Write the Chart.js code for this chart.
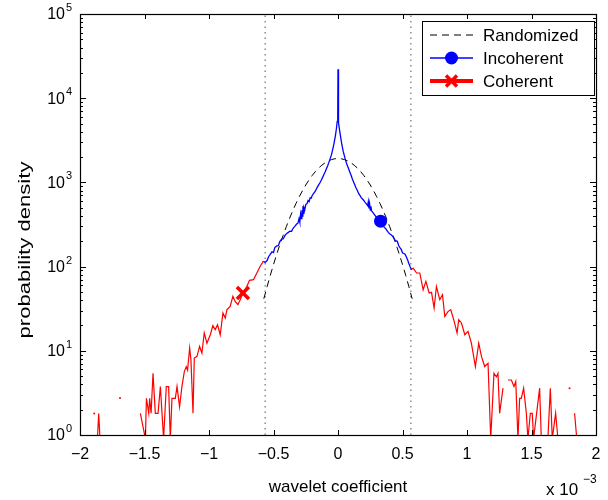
<!DOCTYPE html>
<html>
<head>
<meta charset="utf-8">
<script src="https://cdn.jsdelivr.net/npm/chart.js@4.4.1/dist/chart.umd.min.js"></script>
<style>
  html, body { margin: 0; padding: 0; background: #fff; }
  canvas { display: block; }
</style>
</head>
<body>
<canvas id="pdfChart" width="608" height="500"></canvas>
<script>
// axis ticks (x in units of 1e-3)
const xTicks = [-2, -1.5, -1, -0.5, 0, 0.5, 1, 1.5, 2];
const yTickPowers = [0, 1, 2, 3, 4, 5];
const cutoffs = [-0.565, 0.565];

// randomized (gaussian) reference pdf
const randomizedX = [-0.575, -0.55, -0.525, -0.5, -0.475, -0.45, -0.425, -0.4, -0.375, -0.35, -0.325, -0.3, -0.275, -0.25, -0.225, -0.2, -0.175, -0.15, -0.125, -0.1, -0.075, -0.05, -0.025, 0,
  0.025, 0.05, 0.075, 0.1, 0.125, 0.15, 0.175, 0.2, 0.225, 0.25, 0.275, 0.3, 0.325, 0.35, 0.375, 0.4, 0.425, 0.45, 0.475, 0.5, 0.525, 0.55, 0.575];
const randomizedY = [41.5, 57.5, 78.6, 106, 140, 184, 236, 300, 376, 464, 564, 677, 799, 931, 1068, 1209, 1347, 1480, 1603, 1711, 1801, 1867, 1908, 1922,
  1908, 1867, 1801, 1711, 1603, 1480, 1347, 1209, 1068, 931, 799, 677, 564, 464, 376, 300, 236, 184, 140, 106, 78.6, 57.5, 41.5];

// incoherent part (inside cutoffs)
const incoherentX = [-0.578, -0.565, -0.55, -0.537, -0.525, -0.512, -0.5, -0.49, -0.475, -0.462, -0.45, -0.437, -0.425, -0.41, -0.397, -0.385, -0.372, -0.36, -0.348, -0.335, -0.322, -0.31, -0.302, -0.296, -0.29, -0.285, -0.28, -0.276, -0.272, -0.268, -0.264, -0.258, -0.25, -0.24, -0.232, -0.224, -0.216, -0.208, -0.2, -0.19, -0.18, -0.17, -0.16, -0.15, -0.14, -0.13, -0.12, -0.11, -0.1, -0.09, -0.08, -0.07, -0.06, -0.05, -0.04, -0.03, -0.02, -0.012, -0.006, -0.002, 0,
  0.002, 0.006, 0.012, 0.02, 0.03, 0.04, 0.05, 0.06, 0.07, 0.08, 0.09, 0.1, 0.11, 0.12, 0.13, 0.14, 0.15, 0.16, 0.17, 0.18, 0.19, 0.2, 0.21, 0.22, 0.23, 0.235, 0.24, 0.245, 0.25, 0.255, 0.26, 0.27, 0.28, 0.29, 0.3, 0.31, 0.32, 0.33, 0.34, 0.35, 0.36, 0.37, 0.38, 0.39, 0.4, 0.41, 0.42, 0.43, 0.44, 0.45, 0.46, 0.47, 0.48, 0.49, 0.5, 0.51, 0.52, 0.53, 0.54, 0.55, 0.56, 0.57];
const incoherentY = [116, 112, 118, 132, 140, 150, 147, 168, 176, 178, 200, 212, 213, 236, 248, 255, 264, 262, 285, 300, 318, 330, 372, 338, 420, 372, 466, 398, 520, 430, 500, 470, 545, 560, 610, 590, 655, 650, 700, 735, 770, 820, 880, 935, 990, 1060, 1140, 1230, 1330, 1450, 1580, 1740, 1930, 2150, 2500, 2950, 3600, 4400, 5300, 6200, 22000,
  6000, 5100, 4200, 3500, 2800, 2350, 2050, 1800, 1620, 1480, 1350, 1230, 1110, 1020, 940, 860, 800, 740, 700, 660, 635, 610, 580, 555, 530, 590, 490, 560, 470, 520, 460, 440, 420, 400, 380, 372, 356, 346, 330, 305, 292, 282, 268, 255, 246, 240, 232, 222, 208, 202, 200, 178, 168, 160, 146, 143, 140, 130, 120, 108, 99, 92];
const incoherentMarkerX = 0.33;

// coherent part (outside cutoffs), null = empty bin
const coherentX = [-1.89, -1.875, -1.865, -1.855, -1.845, -1.835, -1.69, -1.68, -1.532, -1.493, -1.485, -1.467, -1.46, -1.449, -1.434, -1.416, -1.395, -1.377, -1.352, -1.331, -1.313, -1.3, -1.287, -1.261, -1.248, -1.228, -1.21, -1.191, -1.176, -1.166, -1.15, -1.14, -1.124, -1.114, -1.093, -1.073, -1.055, -1.037, -1.016, -0.99, -0.97, -0.952, -0.934, -0.913, -0.892, -0.874, -0.861, -0.836, -0.815, -0.797, -0.776, -0.758, -0.737, -0.706, -0.686, -0.655, -0.629, -0.603, -0.578, 0,
  0.57, 0.583, 0.609, 0.634, 0.66, 0.681, 0.707, 0.725, 0.745, 0.763, 0.789, 0.81, 0.828, 0.854, 0.874, 0.897, 0.923, 0.936, 0.957, 0.983, 1.008, 1.034, 1.065, 1.091, 1.112, 1.137, 1.163, 1.184, 1.209, 1.228, 1.24, 1.253, 1.279, 1.3, 1.318, 1.344, 1.364, 1.378, 1.395, 1.408, 1.421, 1.439, 1.46, 1.472, 1.491, 1.506, 1.516, 1.563, 1.576, 1.627, 1.646, 1.661, 1.687, 1.705, 1.72, 1.795, 1.81, 1.834, 1.851];
const coherentY = [1.8, null, 0.9, 1.8, 0.9, null, 2.75, null, 1.81, 0.9, 2.73, 1.81, 2.73, 1.81, 5.4, 1.81, 1.81, 3.76, 0.9, 3.76, 3.76, 0.9, 2.73, 2.73, 3.76, 2.17, 3.76, 5.7, 6.5, 5.9, 10.8, 7.8, 1.81, 8.2, 8.6, 11.3, 9.4, 16.3, 12.3, 15.5, 19.9, 17.8, 20.4, 15.5, 28.1, 24.5, 30.8, 33.7, 44.4, 38.6, 35.3, 40.5, 48.6, 58.3, 68.7, 70, 84.1, 101, 116, null,
  92, 96, 84, 84, 53, 67, 48.6, 49.5, 32.2, 58, 40.5, 46.4, 25.6, 29.4, 30.8, 23.4, 16.3, 23.4, 21.4, 15.5, 17, 12.3, 6.5, 12.3, 8.6, 6.5, 7.1, 0.9, 5.4, 4.9, 5.4, 1.81, 3.6, null, 4.5, 4.5, 3.76, 4.3, 0.9, 2.73, 2.73, 3.6, 1.81, 0.9, 1.81, 1.81, 0.9, 3.6, 0.9, 0.9, 3.6, 0.9, 1.81, 0.9, null, 3.6, null, 1.81, 0.9];
const coherentMarkerX = -0.737;

const FONT = '"Liberation Sans", Arial, Helvetica, sans-serif';

function toPoints(xs, ys) {
  return xs.map((x, i) => ({ x: x, y: ys[i] }));
}

function isIsolated(ys, i) {
  return ys[i] !== null && (i === 0 || ys[i - 1] === null) && (i === ys.length - 1 || ys[i + 1] === null);
}

const incMarkerIdx = incoherentX.indexOf(incoherentMarkerX);
const cohMarkerIdx = coherentX.indexOf(coherentMarkerX);

function fmtTick(v) {
  return (v < 0 ? '\u2212' : '') + String(Math.abs(v));
}

function drawLegend(ctx) {
  const left = 422.5, top = 21.5, right = 594.5, bottom = 95.5;
  ctx.fillStyle = '#fff';
  ctx.fillRect(left, top, right - left, bottom - top);
  ctx.strokeStyle = '#000';
  ctx.lineWidth = 1;
  ctx.strokeRect(left, top, right - left, bottom - top);

  const rows = [35, 58, 81];
  const x0 = 430, x1 = 473, xm = 451.5;

  // Randomized
  ctx.save();
  ctx.strokeStyle = '#000';
  ctx.setLineDash([7, 5]);
  ctx.beginPath();
  ctx.moveTo(x0, rows[0]); ctx.lineTo(x1, rows[0]);
  ctx.stroke();
  ctx.restore();

  // Incoherent
  ctx.strokeStyle = '#0000ff';
  ctx.lineWidth = 1.3;
  ctx.beginPath();
  ctx.moveTo(x0, rows[1]); ctx.lineTo(x1, rows[1]);
  ctx.stroke();
  ctx.fillStyle = '#0000ff';
  ctx.beginPath();
  ctx.arc(xm, rows[1], 6.5, 0, Math.PI * 2);
  ctx.fill();

  // Coherent
  ctx.strokeStyle = '#ff0000';
  ctx.lineWidth = 4;
  ctx.beginPath();
  ctx.moveTo(x0, rows[2]); ctx.lineTo(x1, rows[2]);
  ctx.stroke();
  ctx.lineWidth = 3.5;
  ctx.beginPath();
  ctx.moveTo(xm - 5.5, rows[2] - 5.5); ctx.lineTo(xm + 5.5, rows[2] + 5.5);
  ctx.moveTo(xm - 5.5, rows[2] + 5.5); ctx.lineTo(xm + 5.5, rows[2] - 5.5);
  ctx.stroke();

  ctx.fillStyle = '#000';
  ctx.font = '17px ' + FONT;
  ctx.textAlign = 'left';
  ctx.textBaseline = 'middle';
  ['Randomized', 'Incoherent', 'Coherent'].forEach((t, i) => ctx.fillText(t, 483, rows[i] + 1));
}

const axesPlugin = {
  id: 'matlabAxes',
  afterDatasetsDraw(chart) {
    const { ctx, chartArea: a, scales: { x, y } } = chart;
    ctx.save();

    // inside ticks
    ctx.strokeStyle = '#000';
    ctx.lineWidth = 1;
    ctx.beginPath();
    xTicks.forEach(v => {
      const px = Math.round(x.getPixelForValue(v)) + 0.5;
      ctx.moveTo(px, a.bottom); ctx.lineTo(px, a.bottom - 5);
      ctx.moveTo(px, a.top); ctx.lineTo(px, a.top + 5);
    });
    yTickPowers.forEach(p => {
      for (let m = 1; m < 10; m++) {
        const v = m * Math.pow(10, p);
        if (v > y.max) break;
        const py = Math.round(y.getPixelForValue(v)) + 0.5;
        const len = m === 1 ? 6 : 3;
        ctx.moveTo(a.left, py); ctx.lineTo(a.left + len, py);
        ctx.moveTo(a.right, py); ctx.lineTo(a.right - len, py);
      }
    });
    ctx.stroke();

    // box
    ctx.lineWidth = 1.2;
    ctx.strokeRect(a.left + 0.5, a.top + 0.5, a.right - a.left, a.bottom - a.top);

    // x tick labels
    ctx.fillStyle = '#000';
    ctx.font = '16px ' + FONT;
    ctx.textAlign = 'center';
    ctx.textBaseline = 'middle';
    xTicks.forEach(v => ctx.fillText(fmtTick(v), x.getPixelForValue(v), a.bottom + 20));

    // y tick labels 10^p
    yTickPowers.forEach(p => {
      const py = y.getPixelForValue(Math.pow(10, p));
      ctx.font = '16px ' + FONT;
      ctx.textAlign = 'right';
      ctx.textBaseline = 'middle';
      ctx.fillText('10', 65, py + 1);
      ctx.font = '11px ' + FONT;
      ctx.textAlign = 'left';
      ctx.fillText(String(p), 66, py - 6);
    });

    // axis labels
    ctx.font = '17px ' + FONT;
    ctx.textAlign = 'center';
    ctx.textBaseline = 'alphabetic';
    ctx.fillText('wavelet coefficient', (a.left + a.right) / 2, 492);

    ctx.save();
    ctx.translate(29.5, 250);
    ctx.rotate(-Math.PI / 2);
    ctx.scale(1.3, 1);
    ctx.font = '17px ' + FONT;
    ctx.fillText('probability density', 0, 0);
    ctx.restore();

    // exponent label
    ctx.font = '17px ' + FONT;
    ctx.textAlign = 'left';
    ctx.fillText('x 10', 546, 495);
    ctx.font = '12px ' + FONT;
    ctx.fillText('\u22123', 583, 483);

    drawLegend(ctx);
    ctx.restore();
  }
};

const canvas = document.getElementById('pdfChart');
const pdfChart = new Chart(canvas, {
  type: 'line',
  data: {
    datasets: [
      {
        label: 'Incoherent',
        data: toPoints(incoherentX, incoherentY),
        borderColor: '#0000ff',
        borderWidth: 1.3,
        pointRadius: ctx => ctx.dataIndex === incMarkerIdx ? 6.5 : 0,
        pointBackgroundColor: '#0000ff',
        pointBorderColor: '#0000ff',
        pointBorderWidth: 0,
        order: 1
      },
      {
        label: 'Coherent',
        data: toPoints(coherentX, coherentY),
        borderColor: '#ff0000',
        borderWidth: 1.2,
        pointRadius: ctx => ctx.dataIndex === cohMarkerIdx ? 8.5 : (isIsolated(coherentY, ctx.dataIndex) ? 1 : 0),
        pointStyle: ctx => ctx.dataIndex === cohMarkerIdx ? 'crossRot' : 'circle',
        pointBackgroundColor: '#ff0000',
        pointBorderColor: '#ff0000',
        pointBorderWidth: ctx => ctx.dataIndex === cohMarkerIdx ? 3.5 : 0,
        spanGaps: false,
        order: 2
      },
      {
        label: 'Randomized',
        data: toPoints(randomizedX, randomizedY),
        borderColor: '#000',
        borderWidth: 1,
        borderDash: [7, 5],
        pointRadius: 0,
        order: 3
      },
      {
        label: 'cutoff low',
        data: [{ x: cutoffs[0], y: 1 }, { x: cutoffs[0], y: 100000 }],
        borderColor: '#555',
        borderWidth: 1,
        borderDash: [1.5, 4],
        pointRadius: 0,
        order: 4
      },
      {
        label: 'cutoff high',
        data: [{ x: cutoffs[1], y: 1 }, { x: cutoffs[1], y: 100000 }],
        borderColor: '#555',
        borderWidth: 1,
        borderDash: [1.5, 4],
        pointRadius: 0,
        order: 4
      }
    ]
  },
  options: {
    responsive: false,
    animation: false,
    devicePixelRatio: 1,
    layout: { padding: { left: 80, right: 12, top: 14, bottom: 65 } },
    scales: {
      x: { type: 'linear', min: -2, max: 2, display: false },
      y: { type: 'logarithmic', min: 1, max: 100000, display: false }
    },
    elements: { line: { tension: 0 } },
    plugins: {
      legend: { display: false },
      tooltip: { enabled: false }
    }
  },
  plugins: [axesPlugin]
});
</script>
</body>
</html>
